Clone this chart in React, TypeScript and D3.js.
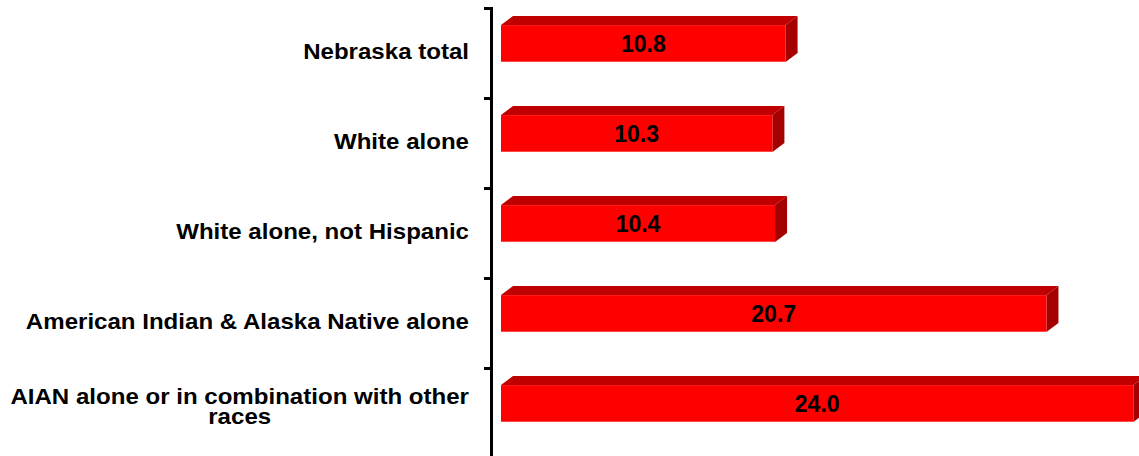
import React, { useEffect, useRef } from "react";
import * as d3 from "d3";

const categories: string[][] = [
  ["Nebraska total"],
  ["White alone"],
  ["White alone, not Hispanic"],
  ["American Indian & Alaska Native alone"],
  ["AIAN alone or in combination with other", "races"],
];
const values: number[] = [10.8, 10.3, 10.4, 20.7, 24.0];
const valueLabels: string[] = ["10.8", "10.3", "10.4", "20.7", "24.0"];

const W = 1139;
const H = 456;

export default function App() {
  const ref = useRef<SVGSVGElement | null>(null);

  useEffect(() => {
    const svg = d3.select(ref.current);
    svg.selectAll("*").remove();

    const ids = categories.map((_, i) => String(i));
    const y = d3.scaleBand<string>().domain(ids).range([8, 458]);
    const x = d3.scaleLinear().domain([0, 25]).range([501, 1159.75]);
    const band = y.bandwidth();
    const dx = 12;
    const dy = 9;

    // axis line & ticks
    const axisX = 491.5;
    svg.append("line")
      .attr("x1", axisX).attr("x2", axisX)
      .attr("y1", 7).attr("y2", H)
      .attr("stroke", "#000").attr("stroke-width", 3);
    const tickYs = ids.map((id) => y(id) as number).concat([(y(ids[ids.length - 1]) as number) + band]);
    svg.selectAll("line.tick").data(tickYs).enter().append("line")
      .attr("class", "tick")
      .attr("x1", 484).attr("x2", axisX)
      .attr("y1", (d) => d + 0.5).attr("y2", (d) => d + 0.5)
      .attr("stroke", "#000").attr("stroke-width", 3);

    // bars
    const g = svg.append("g");
    values.forEach((v, i) => {
      const top = (y(String(i)) as number) + band * 0.19;
      const h = band * 0.41;
      const x0 = x(0);
      const x1 = x(v);
      g.append("path")
        .attr("d", `M${x0},${top} L${x0 + dx},${top - dy} L${x1 + dx},${top - dy} L${x1},${top} Z`)
        .attr("fill", "#C00000");
      g.append("path")
        .attr("d", `M${x1},${top} L${x1 + dx},${top - dy} L${x1 + dx},${top + h - dy} L${x1},${top + h} Z`)
        .attr("fill", "#A50000");
      g.append("rect")
        .attr("x", x0).attr("y", top)
        .attr("width", x1 - x0).attr("height", h)
        .attr("fill", "#FF0000");
      g.append("line")
        .attr("x1", x0).attr("x2", x1)
        .attr("y1", top + h - 0.5).attr("y2", top + h - 0.5)
        .attr("stroke", "#FF4848").attr("stroke-width", 1);
      g.append("text")
        .attr("x", (x0 + x1) / 2)
        .attr("y", top + h / 2 + 8.5)
        .attr("text-anchor", "middle")
        .attr("font-family", "Liberation Sans, Arial, sans-serif")
        .attr("font-weight", "bold")
        .attr("font-size", 23)
        .attr("fill", "#000")
        .text(valueLabels[i]);
    });

    // category labels (multi-line labels as tspans of one text)
    const sx = 1.12;
    const rightX = 469;
    categories.forEach((lines, i) => {
      const c = (y(String(i)) as number) + band / 2;
      const n = lines.length;
      const lg = svg.append("g").attr("transform", `translate(${rightX},0) scale(${sx},1)`);
      const t = lg.append("text")
        .attr("font-family", "Liberation Sans, Arial, sans-serif")
        .attr("font-weight", "bold")
        .attr("font-size", 21.5)
        .attr("fill", "#000")
        .attr("text-anchor", "middle");
      const spans = lines.map((ln, k) => {
        const base = c + 6 + (k - (n - 1) / 2) * 20.5 - (n > 1 ? 5 : 0);
        return t.append("tspan").attr("y", base).text(ln);
      });
      const widths = spans.map((s) => (s.node() as SVGTSpanElement).getComputedTextLength());
      const maxW = Math.max(...widths);
      spans.forEach((s) => s.attr("x", -maxW / 2));
    });
  }, []);

  return (
    <svg
      ref={ref}
      width={W}
      height={H}
      style={{ position: "absolute", left: 0, top: 0, background: "#fff" }}
    />
  );
}
